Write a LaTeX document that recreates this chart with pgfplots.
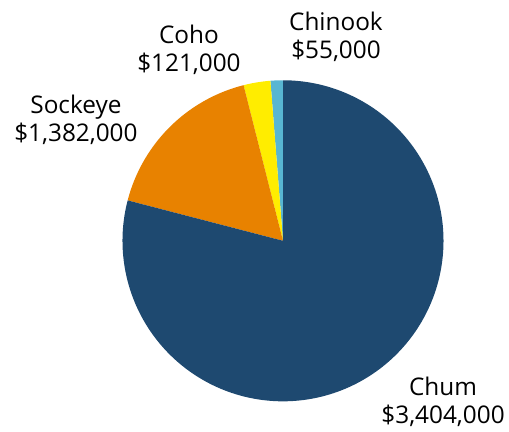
\documentclass[border=0pt]{standalone}
\usepackage{pgfplots}
\pgfplotsset{compat=1.18}
\usepackage{fontspec}
\setmainfont{Open Sans}
\definecolor{chum}{RGB}{30,73,112}
\definecolor{sockeye}{RGB}{232,130,0}
\definecolor{coho}{RGB}{255,237,0}
\definecolor{chinook}{RGB}{88,182,210}
% slice shares (percent of the circle, as drawn)
\def\shChinook{1.25}
\def\shCoho{2.70}
\def\shSockeye{17.00}
\def\shChum{79.05}
\pgfmathsetmacro{\aA}{90}
\pgfmathsetmacro{\aB}{\aA+3.6*\shChinook}
\pgfmathsetmacro{\aC}{\aB+3.6*\shCoho}
\pgfmathsetmacro{\aD}{\aC+3.6*\shSockeye}
\pgfmathsetmacro{\aE}{\aD+3.6*\shChum}
\begin{document}
\begin{tikzpicture}
\begin{axis}[
  scale only axis, width=10cm, height=8.468cm,
  xmin=-1.763, xmax=1.408, ymin=-1.185, ymax=1.500,
  hide axis, clip=false,
]
\path (rel axis cs:0,0) (rel axis cs:1,1);
\addplot[fill=chinook, draw=none, domain=\aA:\aB, samples=20, variable=\t] ({cos(t)},{sin(t)}) -- (axis cs:0,0) -- cycle;
\addplot[fill=coho, draw=none, domain=\aB:\aC, samples=20, variable=\t] ({cos(t)},{sin(t)}) -- (axis cs:0,0) -- cycle;
\addplot[fill=sockeye, draw=none, domain=\aC:\aD, samples=60, variable=\t] ({cos(t)},{sin(t)}) -- (axis cs:0,0) -- cycle;
\addplot[fill=chum, draw=none, domain=\aD:\aE, samples=200, variable=\t] ({cos(t)},{sin(t)}) -- (axis cs:0,0) -- cycle;
\tikzset{lab/.style={align=center, font=\fontsize{13.6}{15.8}\selectfont, inner sep=0pt}}
\node[lab] at (axis cs:0.330,1.270) {Chinook\\\$55,000};
\node[lab] at (axis cs:-0.586,1.189) {Coho\\\$121,000};
\node[lab] at (axis cs:-1.290,0.753) {Sockeye\\\$1,382,000};
\node[lab] at (axis cs:0.997,-1.004) {Chum\\\$3,404,000};
\end{axis}
\end{tikzpicture}
\end{document}
